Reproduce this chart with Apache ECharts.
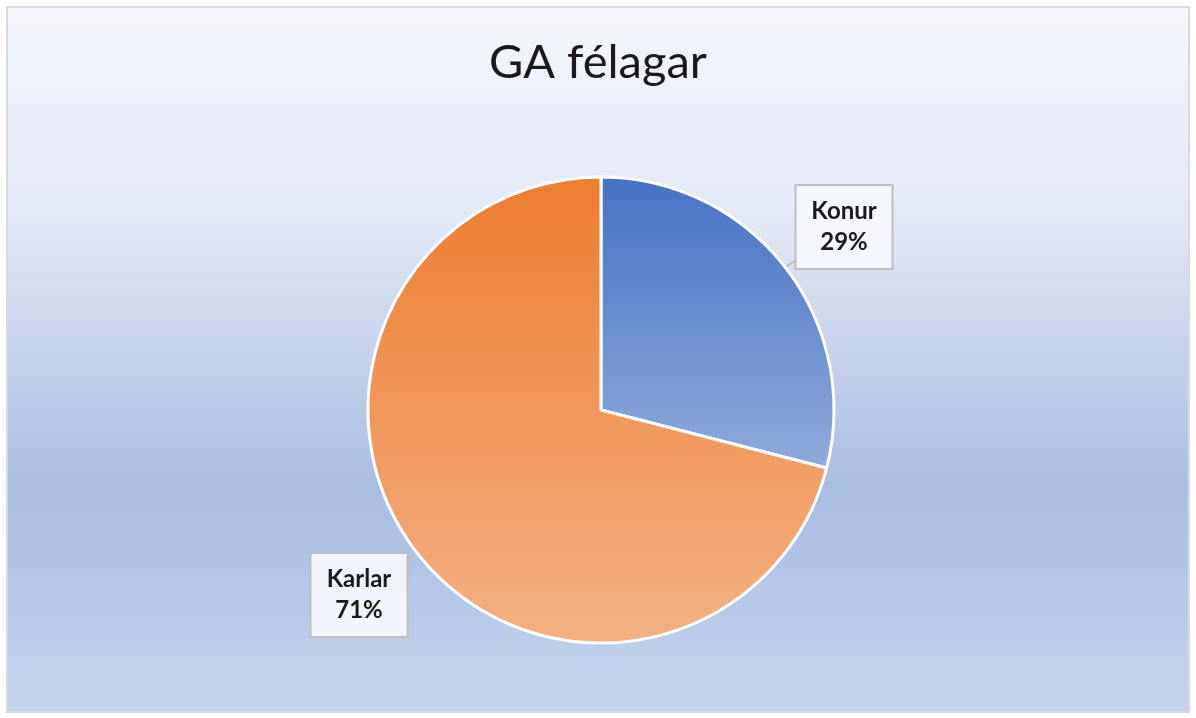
<!DOCTYPE html>
<html>
<head>
<meta charset="utf-8">
<script src="https://cdn.jsdelivr.net/npm/echarts@6/dist/echarts.min.js"></script>
<style>
  html, body { margin: 0; padding: 0; background: #fff; }
  #chart { width: 1196px; height: 718px; }
</style>
</head>
<body>
<div id="chart"></div>
<script>
// data
var categories = ['Konur', 'Karlar'];
var values = [29, 71];
var sliceColors = [
  ['#4472c4', '#8faadc'], // Konur
  ['#ed7d31', '#f4b183']  // Karlar
];
// label box centres (x, y)
var labelPos = [[844, 227], [359, 595]];

var chart = echarts.init(document.getElementById('chart'));

var pieData = categories.map(function (name, i) {
  return {
    name: name,
    value: values[i],
    itemStyle: {
      color: new echarts.graphic.LinearGradient(0, 0, 0, 1, [
        { offset: 0, color: sliceColors[i][0] },
        { offset: 1, color: sliceColors[i][1] }
      ])
    }
  };
});

var option = {
  backgroundColor: '#fff',
  animation: false,
  graphic: [{
    type: 'rect',
    z: -10,
    silent: true,
    shape: { x: 7, y: 7, width: 1182, height: 705 },
    style: {
      fill: new echarts.graphic.LinearGradient(0, 0, 0, 1, [
        { offset: 0, color: '#f5f7fc' },
        { offset: 0.3, color: '#e2e8f6' },
        { offset: 0.68, color: '#a9bde2' },
        { offset: 1, color: '#c6d4ee' }
      ]),
      stroke: '#d9d9d9',
      lineWidth: 2
    }
  }],
  title: {
    text: 'GA félagar',
    left: 'center',
    top: 34,
    textStyle: {
      fontFamily: 'Lato',
      fontWeight: 'normal',
      fontSize: 47,
      color: '#1a1a1a'
    }
  },
  series: [{
    type: 'pie',
    center: [601, 410],
    radius: 233,
    startAngle: 90,
    clockwise: true,
    percentPrecision: 0,
    data: pieData,
    itemStyle: {
      borderColor: '#ffffff',
      borderWidth: 3
    },
    label: {
      show: true,
      position: 'outside',
      formatter: '{b}\n{d}%',
      fontFamily: 'Lato',
      fontWeight: 'bold',
      fontSize: 24,
      lineHeight: 31,
      color: '#1a1a1a',
      align: 'center',
      width: 73,
      padding: [10, 11, 10, 11],
      backgroundColor: 'rgba(246,248,253,0.92)',
      borderColor: '#bfbfbf',
      borderWidth: 2
    },
    labelLine: {
      show: true,
      length: 10,
      length2: 0,
      lineStyle: { color: '#bfbfbf', width: 2 }
    },
    labelLayout: function (params) {
      var p = labelPos[params.dataIndex];
      var edge = params.labelLinePoints ? params.labelLinePoints[0] : p;
      var corner = params.dataIndex === 0
        ? [p[0] - 40, p[1] + 28]
        : [p[0] + 42, p[1] - 30];
      return {
        x: p[0],
        y: p[1],
        align: 'center',
        verticalAlign: 'middle',
        labelLinePoints: [edge, corner, corner]
      };
    }
  }]
};

chart.setOption(option);
</script>
</body>
</html>
